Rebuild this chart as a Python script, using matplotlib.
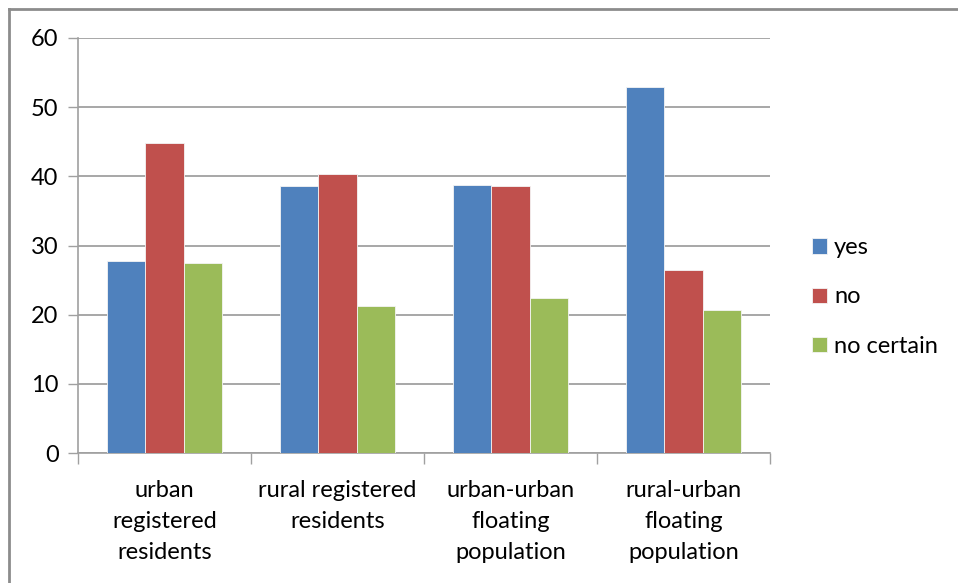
import matplotlib
matplotlib.use("Agg")
import matplotlib.pyplot as plt
import numpy as np
from matplotlib.patches import Patch
from matplotlib.lines import Line2D

categories = ["urban\nregistered\nresidents", "rural registered\nresidents",
              "urban-urban\nfloating\npopulation", "rural-urban\nfloating\npopulation"]
series_names = ["yes", "no", "no certain"]
yes_vals = [27.7, 38.6, 38.8, 52.9]
no_vals = [44.8, 40.4, 38.6, 26.4]
uncertain_vals = [27.5, 21.2, 22.4, 20.7]
y_ticks = [0, 10, 20, 30, 40, 50, 60]

colors = ["#4F81BD", "#C0504D", "#9BBB59"]
font = ["Lato", "DejaVu Sans"]
plt.rcParams["font.family"] = font

fig = plt.figure(figsize=(9.58, 5.83), dpi=100)
W, H = 958, 583
ax = fig.add_axes([78 / W, 1 - 453 / H, (770 - 78) / W, (453 - 38) / H])

x = np.arange(len(categories))
bw = 1 / 4.5
for i, vals in enumerate([yes_vals, no_vals, uncertain_vals]):
    ax.bar(x + (i - 1) * bw, vals, width=bw, color=colors[i],
           edgecolor="#f4f4f4", linewidth=0.6, zorder=3, label=series_names[i])

ax.set_xlim(-0.5, len(categories) - 0.5)
ax.set_ylim(0, 60)
ax.set_yticks(y_ticks)
ax.set_yticklabels([str(t) for t in y_ticks], fontsize=17, color="#000000")
ax.yaxis.grid(True, color="#a0a0a0", linewidth=1.3, zorder=0)
ax.tick_params(axis="y", length=7, width=1, color="#a0a0a0", pad=7)

ax.set_xticks(np.arange(-0.5, len(categories), 1.0))
ax.set_xticklabels([])
ax.tick_params(axis="x", length=8, width=1, color="#a0a0a0")
for xi, lab in zip(x, categories):
    ax.text(xi, -3.9, lab, ha="center", va="top", fontsize=17,
            linespacing=1.6, transform=ax.transData, family=font)

for side in ["top", "right"]:
    ax.spines[side].set_visible(False)
for side in ["left", "bottom"]:
    ax.spines[side].set_color("#a0a0a0")
    ax.spines[side].set_linewidth(1.2)

handles = [Patch(facecolor=c, edgecolor="#f4f4f4", linewidth=0.6) for c in colors]
fig.legend(handles, series_names, loc="center left",
           bbox_to_anchor=(791 / W, 1 - 297 / H), frameon=False,
           fontsize=17, handlelength=0.62, handleheight=0.62,
           handletextpad=0.3, labelspacing=1.2)

# chart area border (top and left edges)
fig.add_artist(Line2D([9 / W, 1], [1 - 8.5 / H, 1 - 8.5 / H],
                      transform=fig.transFigure, color="#8c8c8c", linewidth=2))
fig.add_artist(Line2D([9 / W, 9 / W], [0, 1 - 8.5 / H],
                      transform=fig.transFigure, color="#8c8c8c", linewidth=2))

fig.savefig("out.png", dpi=100)
